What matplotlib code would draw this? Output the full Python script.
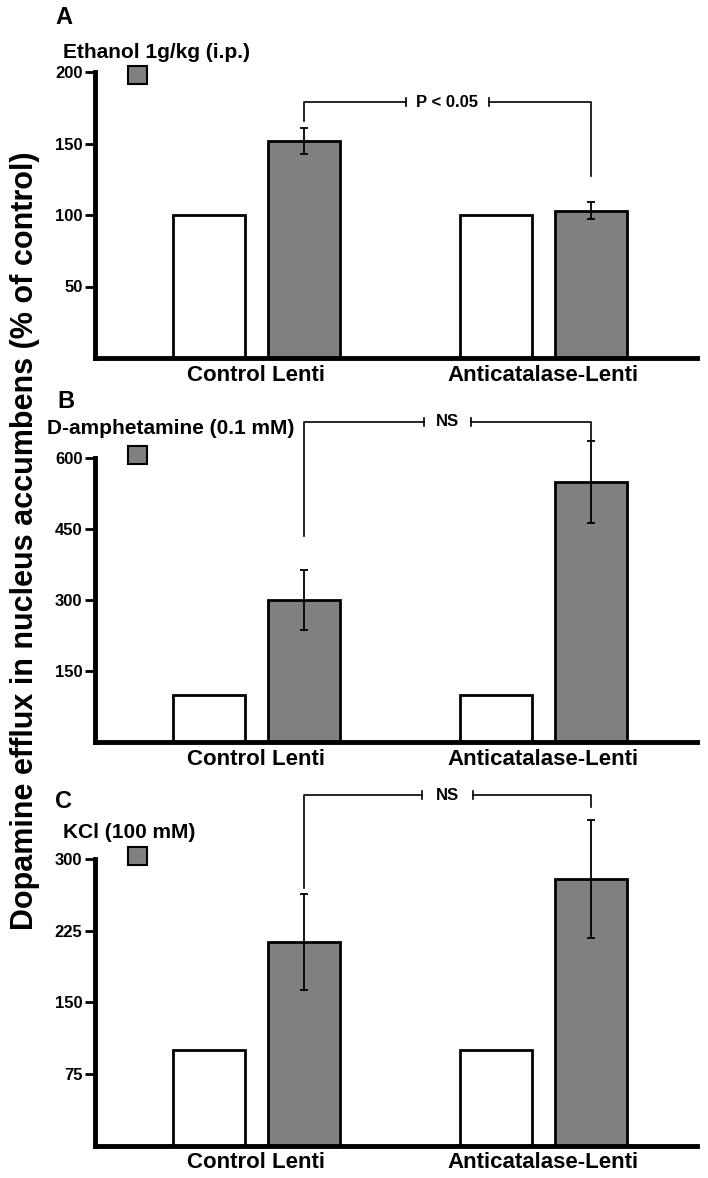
import matplotlib
matplotlib.use('Agg')
import matplotlib.pyplot as plt
from matplotlib.patches import Rectangle

plt.rcParams['font.family'] = ['Liberation Sans', 'DejaVu Sans']
plt.rcParams['font.weight'] = 'bold'

groups = ['Control Lenti', 'Anticatalase-Lenti']
panel_letters = ['A', 'B', 'C']
treatments = ['Ethanol 1g/kg (i.p.)', 'D-amphetamine (0.1 mM)', 'KCl (100 mM)']

baseline_a = [100, 100]
treated_a = [152, 103]
err_a = [9, 6]

baseline_b = [100, 100]
treated_b = [300, 549]
err_b = [64, 87]

baseline_c = [100, 100]
treated_c = [213, 279]
err_c = [50, 62]

yticks_a = [50, 100, 150, 200]
yticks_b = [150, 300, 450, 600]
yticks_c = [75, 150, 225, 300]

# significance brackets: (top, left drop, right drop, label, text half gap)
sig_a = (179, 165.5, 127, 'P < 0.05', 0.145)
sig_b = (677, 435, 639, 'NS', 0.082)
sig_c = (367, 269.5, 354, 'NS', 0.09)

W, H = 708, 1178
fig = plt.figure(figsize=(W / 100, H / 100), dpi=100)

# axes boxes in pixels: (bottom, top)
boxes = [(358, 72), (742, 458), (1145.5, 859)]
letter_pos = [(55, 17), (57, 402), (55, 802)]
treat_pos = [(63, 52), (47, 428), (63, 832)]
square_y = [66, 446, 847]

panels = [
    (baseline_a, treated_a, err_a, yticks_a, sig_a),
    (baseline_b, treated_b, err_b, yticks_b, sig_b),
    (baseline_c, treated_c, err_c, yticks_c, sig_c),
]

off = 0.1655
bw = 0.251
x = [0, 1]

for i, (base, treat, err, yt, sig) in enumerate(panels):
    bot, top = boxes[i]
    ax = fig.add_axes([95 / W, 1 - bot / H, 602 / W, (bot - top) / H])
    ax.bar([v - off for v in x], base, bw, color='white', edgecolor='black', linewidth=2, zorder=2)
    ax.bar([v + off for v in x], treat, bw, color='#808080', edgecolor='black', linewidth=2, zorder=2)
    eb = ax.errorbar([v + off for v in x], treat, yerr=err, fmt='none', ecolor='black',
                     elinewidth=1.3, capsize=3, capthick=1.3, zorder=3)
    for part in eb.lines:
        if part is None:
            continue
        for art in (part if isinstance(part, tuple) else [part]):
            art.set_clip_on(False)
    ax.set_xlim(-0.5627, 1.535)
    ax.set_ylim(0, yt[-1])
    ax.set_yticks(yt)
    ax.set_yticklabels([str(t) for t in yt], fontsize=12, fontweight='bold')
    ax.set_xticks(x)
    ax.set_xticklabels(groups, fontsize=16, fontweight='bold')
    ax.tick_params(axis='x', length=0, pad=5)
    ax.tick_params(axis='y', length=7, width=2, pad=2)
    for s in ['top', 'right']:
        ax.spines[s].set_visible(False)
    for s in ['left', 'bottom']:
        ax.spines[s].set_linewidth(3.5)

    # bracket
    ytop, yl, yr, label, gap = sig
    xl, xr = x[0] + off, x[1] + off
    xm = (xl + xr) / 2
    kw = dict(color='black', lw=1.2, clip_on=False, zorder=4)
    ax.plot([xl, xl, xm - gap], [yl, ytop, ytop], **kw)
    ax.plot([xm + gap, xr, xr], [ytop, ytop, yr], **kw)
    tick = yt[-1] * 0.014
    ax.plot([xm - gap, xm - gap], [ytop - tick, ytop + tick], **kw)
    ax.plot([xm + gap, xm + gap], [ytop - tick, ytop + tick], **kw)
    ax.text(xm, ytop, label, ha='center', va='center', fontsize=12, fontweight='bold')

    # panel letter, treatment label and legend square
    lx, ly = letter_pos[i]
    fig.text(lx / W, 1 - ly / H, panel_letters[i], fontsize=17, fontweight='bold',
             ha='left', va='center')
    tx, ty = treat_pos[i]
    fig.text(tx / W, 1 - ty / H, treatments[i], fontsize=15, fontweight='bold',
             ha='left', va='center')
    sy = square_y[i]
    fig.patches.append(Rectangle((128 / W, 1 - (sy + 18) / H), 19 / W, 18 / H,
                                 transform=fig.transFigure, facecolor='#808080',
                                 edgecolor='black', linewidth=1.5))

fig.text(25 / W, 1 - 541 / H, 'Dopamine efflux in nucleus accumbens (% of control)',
         rotation=90, fontsize=22, fontweight='bold', ha='center', va='center')

fig.savefig('out.png', dpi=100)
